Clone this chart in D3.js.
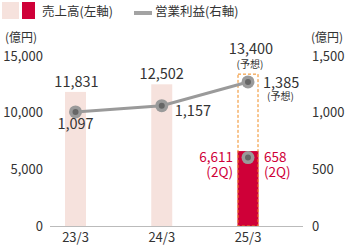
<!DOCTYPE html>
<html>
<head>
<meta charset="utf-8">
<title>sales-profit</title>
<script src="https://cdnjs.cloudflare.com/ajax/libs/d3/7.8.5/d3.min.js"></script>
<style>
  body { margin:0; background:#fff; }
  text { font-family:"Noto Sans CJK JP","Noto Sans",sans-serif; fill:#333; }
</style>
</head>
<body>
<svg width="355" height="245"></svg>
<script>
// data
var years = ["23/3", "24/3", "25/3"];
var sales = [11831, 12502, 13400];      // 25/3 = forecast
var salesHalf = [null, null, 6611];     // 2Q actual
var profit = [1097, 1157, 1385];        // 25/3 = forecast
var profitHalf = [null, null, 658];
var leftTicks = [0, 5000, 10000, 15000];
var rightTicks = [0, 500, 1000, 1500];

var svg = d3.select("svg");
var pink = "#f6e2dd", red = "#cf0038", grey = "#9a9a9a", dark = "#666";

var x = d3.scalePoint().domain(years).range([75.5, 248]);
var yL = d3.scaleLinear().domain([0, 15000]).range([226, 56]);
var yR = d3.scaleLinear().domain([0, 1500]).range([226, 56]);
// the original plots the profit line a little flatter than its axis
var yP = d3.scaleLinear().domain([0, 1500]).range([226, 70]);
var barW = 21;

// legend
svg.append("rect").attr("x", 2).attr("y", 2).attr("width", 17).attr("height", 17).attr("fill", pink);
svg.append("rect").attr("x", 22).attr("y", 2).attr("width", 13).attr("height", 17).attr("fill", red);
svg.append("text").attr("x", 42).attr("y", 16).style("font-size", "12.5px").text("売上高(左軸)");
svg.append("line").attr("x1", 134).attr("x2", 152).attr("y1", 13).attr("y2", 13)
  .attr("stroke", "#a3a3a3").attr("stroke-width", 4);
svg.append("text").attr("x", 155).attr("y", 16).style("font-size", "12.5px").text("営業利益(右軸)");

// unit labels
svg.append("text").attr("x", 21).attr("y", 42).attr("text-anchor", "middle").style("font-size", "12px").text("(億円)");
svg.append("text").attr("x", 327).attr("y", 42).attr("text-anchor", "middle").style("font-size", "12px").text("(億円)");

// axes
var axL = svg.append("g").attr("transform", "translate(43,0)")
  .call(d3.axisLeft(yL).tickValues(leftTicks).tickSize(0).tickPadding(0).tickFormat(d3.format(",")));
var axR = svg.append("g").attr("transform", "translate(312,0)")
  .call(d3.axisRight(yR).tickValues(rightTicks).tickSize(0).tickPadding(0).tickFormat(d3.format(",")));
[axL, axR].forEach(function(a) {
  a.select(".domain").remove();
  a.selectAll("text").style("font-size", "13px").style("font-family", "'Noto Sans CJK JP','Noto Sans',sans-serif").attr("fill", "#333");
});

// bars
svg.selectAll(".bar").data(years.slice(0, 2)).enter().append("rect")
  .attr("x", function(d) { return x(d) - barW / 2; })
  .attr("y", function(d, i) { return yL(sales[i]); })
  .attr("width", barW)
  .attr("height", function(d, i) { return yL(0) - yL(sales[i]); })
  .attr("fill", pink);

// forecast box + 2Q bar
svg.append("rect")
  .attr("x", x(years[2]) - barW / 2).attr("y", yL(salesHalf[2]))
  .attr("width", barW).attr("height", yL(0) - yL(salesHalf[2]))
  .attr("fill", red);
svg.append("rect")
  .attr("x", x(years[2]) - barW / 2 + 0.5).attr("y", yL(sales[2]))
  .attr("width", barW - 1).attr("height", yL(0) - yL(sales[2]))
  .attr("fill", "none").attr("stroke", "#ef8a1e").attr("stroke-width", 1)
  .attr("stroke-dasharray", "3,2");

// baseline
svg.append("line").attr("x1", 50).attr("x2", 303).attr("y1", yL(0) + 0.5).attr("y2", yL(0) + 0.5)
  .attr("stroke", "#bbb").attr("stroke-width", 1);

// category labels
svg.selectAll(".cat").data(years).enter().append("text")
  .attr("x", function(d) { return x(d); }).attr("y", 242)
  .attr("text-anchor", "middle").style("font-size", "13px").text(function(d) { return d; });

// profit line
var line = d3.line().x(function(d, i) { return x(years[i]); }).y(function(d) { return yP(d); });
svg.append("path").datum(profit).attr("d", line)
  .attr("fill", "none").attr("stroke", grey).attr("stroke-width", 3);

function dot(cx, cy) {
  svg.append("circle").attr("cx", cx).attr("cy", cy).attr("r", 6.5).attr("fill", grey);
  svg.append("circle").attr("cx", cx).attr("cy", cy).attr("r", 3).attr("fill", dark);
}
profit.forEach(function(v, i) { dot(x(years[i]), yP(v)); });
dot(x(years[2]), yP(profitHalf[2]));

var fmt = d3.format(",");
function label(tx, ty, s, anchor, size, color) {
  svg.append("text").attr("x", tx).attr("y", ty).attr("text-anchor", anchor)
    .style("font-size", size + "px").style("fill", color || "#333").text(s);
}

// sales labels
label(x(years[0]) + 1, yL(sales[0]) - 5, fmt(sales[0]), "middle", 14.5);
label(x(years[1]), yL(sales[1]) - 5, fmt(sales[1]), "middle", 14.5);
label(x(years[2]) + 3, yL(sales[2]) - 20, fmt(sales[2]), "middle", 14.5);
label(x(years[2]) + 2, yL(sales[2]) - 6, "(予想)", "middle", 10);

// profit labels
label(x(years[0]), yP(profit[0]) + 17, fmt(profit[0]), "middle", 14.5);
label(x(years[1]) + 13, yP(profit[1]) + 10, fmt(profit[1]), "start", 14.5);
label(x(years[2]) + 15, yP(profit[2]) + 6, fmt(profit[2]), "start", 14.5);
label(x(years[2]) + 19, yP(profit[2]) + 18, "(予想)", "start", 10);

// 2Q labels
label(x(years[2]) - 15, yL(salesHalf[2]) + 11, fmt(salesHalf[2]), "end", 13.5, red);
label(x(years[2]) - 15, yL(salesHalf[2]) + 26, "(2Q)", "end", 13.5, red);
label(x(years[2]) + 16, yL(salesHalf[2]) + 11, fmt(profitHalf[2]), "start", 13.5, red);
label(x(years[2]) + 16, yL(salesHalf[2]) + 26, "(2Q)", "start", 13.5, red);
</script>
</body>
</html>
